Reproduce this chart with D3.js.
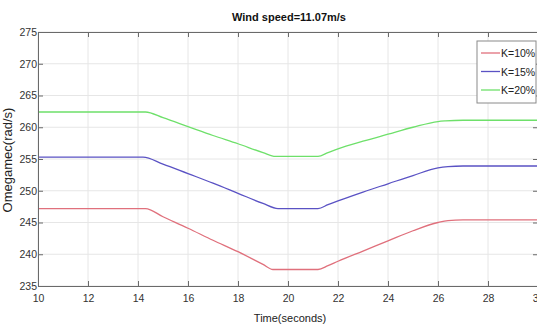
<!DOCTYPE html>
<html>
<head>
<meta charset="utf-8">
<script src="https://cdn.jsdelivr.net/npm/d3@7"></script>
<style>
  body { margin: 0; background: #fff; }
  text { font-family: "Liberation Sans Narrow", "Arial Narrow", "Liberation Sans", sans-serif; }
</style>
</head>
<body>
<div id="chart"></div>
<script>
// data
const timeK10 = [10, 14.3, 15, 16, 17, 18, 19, 19.4, 21.2, 21.6, 22, 23, 24, 25, 26, 26.4, 27, 28, 30];
const valK10 = [247.2, 247.2, 245.9, 244.1, 242.2, 240.4, 238.4, 237.6, 237.6, 238.2, 238.9, 240.5, 242.1, 243.7, 245.0, 245.3, 245.4, 245.4, 245.4];
const timeK15 = [10, 14.2, 15, 16, 17, 18, 19, 19.6, 21.2, 21.6, 22, 23, 24, 25, 26, 26.4, 27, 28, 30];
const valK15 = [255.3, 255.3, 254.2, 252.7, 251.2, 249.6, 248.0, 247.2, 247.2, 247.8, 248.4, 249.8, 251.1, 252.4, 253.6, 253.8, 253.9, 253.9, 253.9];
const timeK20 = [10, 14.3, 15, 16, 17, 18, 19, 19.5, 21.2, 21.6, 22, 23, 24, 25, 26, 26.3, 27, 28, 30];
const valK20 = [262.4, 262.4, 261.5, 260.1, 258.7, 257.4, 256.0, 255.4, 255.4, 256.0, 256.6, 257.8, 258.9, 260.0, 260.9, 261.0, 261.1, 261.1, 261.1];
const seriesNames = ["K=10%", "K=15%", "K=20%"];
const seriesColors = ["#e0707c", "#5a52c4", "#6ee06a"];
const xTicks = [10, 12, 14, 16, 18, 20, 22, 24, 26, 28, 30];
const yTicks = [235, 240, 245, 250, 255, 260, 265, 270, 275];

const W = 537, H = 329;
const m = { left: 38, top: 32, right: 538, bottom: 286 };

const svg = d3.select('#chart').append('svg').attr('width', W).attr('height', H);
const x = d3.scaleLinear().domain([10, 30]).range([m.left, m.right]);
const y = d3.scaleLinear().domain([235, 275]).range([m.bottom, m.top]);

// grid
const grid = svg.append('g');
xTicks.forEach(t => grid.append('line').attr('x1', x(t)).attr('x2', x(t)).attr('y1', m.top).attr('y2', m.bottom)
  .attr('stroke', '#e6e6e6').attr('stroke-width', 1));
yTicks.forEach(t => grid.append('line').attr('x1', m.left).attr('x2', m.right).attr('y1', y(t)).attr('y2', y(t))
  .attr('stroke', '#e6e6e6').attr('stroke-width', 1));

// lines
const series = [[timeK10, valK10], [timeK15, valK15], [timeK20, valK20]];
const line = d3.line().x(d => x(d[0])).y(d => y(d[1])).curve(d3.curveMonotoneX);
series.forEach((s, i) => {
  const pts = s[0].map((t, j) => [t, s[1][j]]);
  svg.append('path').datum(pts).attr('d', line).attr('fill', 'none')
    .attr('stroke', seriesColors[i]).attr('stroke-width', 1.3);
});

// axes (MATLAB style box with inward ticks)
const axColor = '#6a6a6a';
const xb = svg.append('g').attr('transform', `translate(0,${m.bottom})`)
  .call(d3.axisBottom(x).tickValues(xTicks).tickSize(-5).tickPadding(9).tickFormat(d3.format('d')));
const xt = svg.append('g').attr('transform', `translate(0,${m.top})`)
  .call(d3.axisTop(x).tickValues(xTicks).tickSize(-5).tickFormat(''));
const yl = svg.append('g').attr('transform', `translate(${m.left},0)`)
  .call(d3.axisLeft(y).tickValues(yTicks).tickSize(-5).tickPadding(4).tickFormat(d3.format('d')));
const yr = svg.append('g').attr('transform', `translate(${m.right},0)`)
  .call(d3.axisRight(y).tickValues(yTicks).tickSize(-5).tickFormat(''));
[xb, xt, yl, yr].forEach(g => {
  g.selectAll('path').attr('stroke', axColor);
  g.selectAll('line').attr('stroke', axColor);
  g.selectAll('text').attr('fill', '#333').style('font-size', '10.5px');
});
yl.selectAll('text').attr('dx', '3');

// title and labels
svg.append('text').text('Wind speed=11.07m/s').attr('x', 289).attr('y', 21)
  .attr('text-anchor', 'middle').style('font-size', '11px').style('font-weight', 'bold').attr('fill', '#111');
svg.append('text').text('Time(seconds)').attr('x', 290).attr('y', 322)
  .attr('text-anchor', 'middle').style('font-size', '11px').attr('fill', '#222');
svg.append('text').text('Omegamec(rad/s)').attr('transform', 'translate(12,160) rotate(-90)')
  .attr('text-anchor', 'middle').style('font-size', '13px').attr('fill', '#222');

// legend
const lg = svg.append('g');
lg.append('rect').attr('x', 477).attr('y', 41).attr('width', 59).attr('height', 62)
  .attr('fill', '#fff').attr('stroke', '#8a8a8a').attr('stroke-width', 1);
seriesNames.forEach((n, i) => {
  const ly = 53 + i * 18.5;
  lg.append('line').attr('x1', 481).attr('x2', 500).attr('y1', ly).attr('y2', ly)
    .attr('stroke', seriesColors[i]).attr('stroke-width', 1.3);
  lg.append('text').text(n).attr('x', 501).attr('y', ly + 4)
    .style('font-size', '10.5px').attr('fill', '#222');
});
</script>
</body>
</html>
